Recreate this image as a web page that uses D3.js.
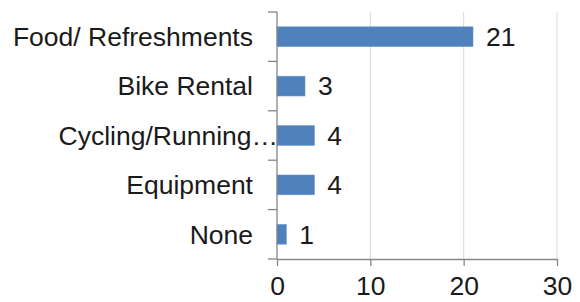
<!DOCTYPE html>
<html>
<head>
<meta charset="utf-8">
<script src="https://cdn.jsdelivr.net/npm/d3@7"></script>
<style>
  html, body { margin: 0; padding: 0; background: #fff; }
  svg { display: block; font-family: "Liberation Sans", Arial, sans-serif; }
</style>
</head>
<body>
<div id="chart"></div>
<script>
// ─── Data ───
const categories = ["Food/ Refreshments", "Bike Rental", "Cycling/Running…", "Equipment", "None"];
const counts = [21, 3, 4, 4, 1];
const xTicks = [0, 10, 20, 30];

const W = 580, H = 302;
const margin = { top: 12, right: 23, bottom: 43, left: 277 };
const width = W - margin.left - margin.right;
const height = H - margin.top - margin.bottom;
const FONT = "26.5px";

const svg = d3.select("#chart").append("svg")
  .attr("width", W).attr("height", H);

const chart = svg.append("g")
  .attr("transform", `translate(${margin.left},${margin.top})`);

const x = d3.scaleLinear().domain([0, 30]).range([0, width]);
const y = d3.scaleBand().domain(categories).range([0, height]).paddingInner(0.6).paddingOuter(0.3);

// ─── Gridlines ───
chart.append("g")
  .selectAll("line")
  .data(xTicks.slice(1))
  .join("line")
  .attr("x1", (d) => x(d)).attr("x2", (d) => x(d))
  .attr("y1", 0).attr("y2", height)
  .attr("stroke", "#d9d9d9").attr("stroke-width", 1);

// ─── Bars ───
const data = categories.map((c, i) => ({ cat: c, val: counts[i] }));

chart.append("g")
  .selectAll("rect")
  .data(data)
  .join("rect")
  .attr("x", 0)
  .attr("y", (d) => y(d.cat))
  .attr("width", (d) => x(d.val))
  .attr("height", y.bandwidth())
  .attr("fill", "#4f81bd")
  .attr("stroke", "#6b95c8")
  .attr("stroke-width", 0.6);

// ─── Value labels ───
chart.append("g")
  .selectAll("text")
  .data(data)
  .join("text")
  .attr("x", (d) => x(d.val) + 13)
  .attr("y", (d) => y(d.cat) + y.bandwidth() / 2)
  .attr("dy", "0.35em")
  .style("font-size", FONT)
  .style("fill", "#1a1a1a")
  .text((d) => d.val);

// ─── Y axis (category boundaries as ticks) ───
const yAxis = chart.append("g");
yAxis.append("line")
  .attr("x1", 0).attr("x2", 0).attr("y1", 0).attr("y2", height)
  .attr("stroke", "#868686").attr("stroke-width", 1.3);
const step = height / categories.length;
yAxis.selectAll("line.tk")
  .data(d3.range(categories.length + 1))
  .join("line")
  .attr("class", "tk")
  .attr("x1", -9).attr("x2", 0)
  .attr("y1", (d) => d * step).attr("y2", (d) => d * step)
  .attr("stroke", "#868686").attr("stroke-width", 1.3);

yAxis.selectAll("text")
  .data(categories)
  .join("text")
  .attr("x", (d) => (d.endsWith("…") ? 1 : -24))
  .attr("y", (d) => y(d) + y.bandwidth() / 2)
  .attr("dy", "0.35em")
  .attr("text-anchor", "end")
  .style("font-size", FONT)
  .style("fill", "#1a1a1a")
  .text((d) => d);

// ─── X axis ───
const xAxis = chart.append("g")
  .attr("transform", `translate(0,${height})`)
  .call(d3.axisBottom(x).tickValues(xTicks).tickSize(7).tickPadding(10).tickSizeOuter(0));
xAxis.select(".domain").attr("stroke", "#868686").attr("stroke-width", 1.3);
xAxis.selectAll(".tick line").attr("stroke", "#868686").attr("stroke-width", 1.3);
xAxis.selectAll("text")
  .style("font-size", FONT)
  .style("fill", "#1a1a1a")
  .style("font-family", "'Liberation Sans', Arial, sans-serif");
</script>
</body>
</html>
